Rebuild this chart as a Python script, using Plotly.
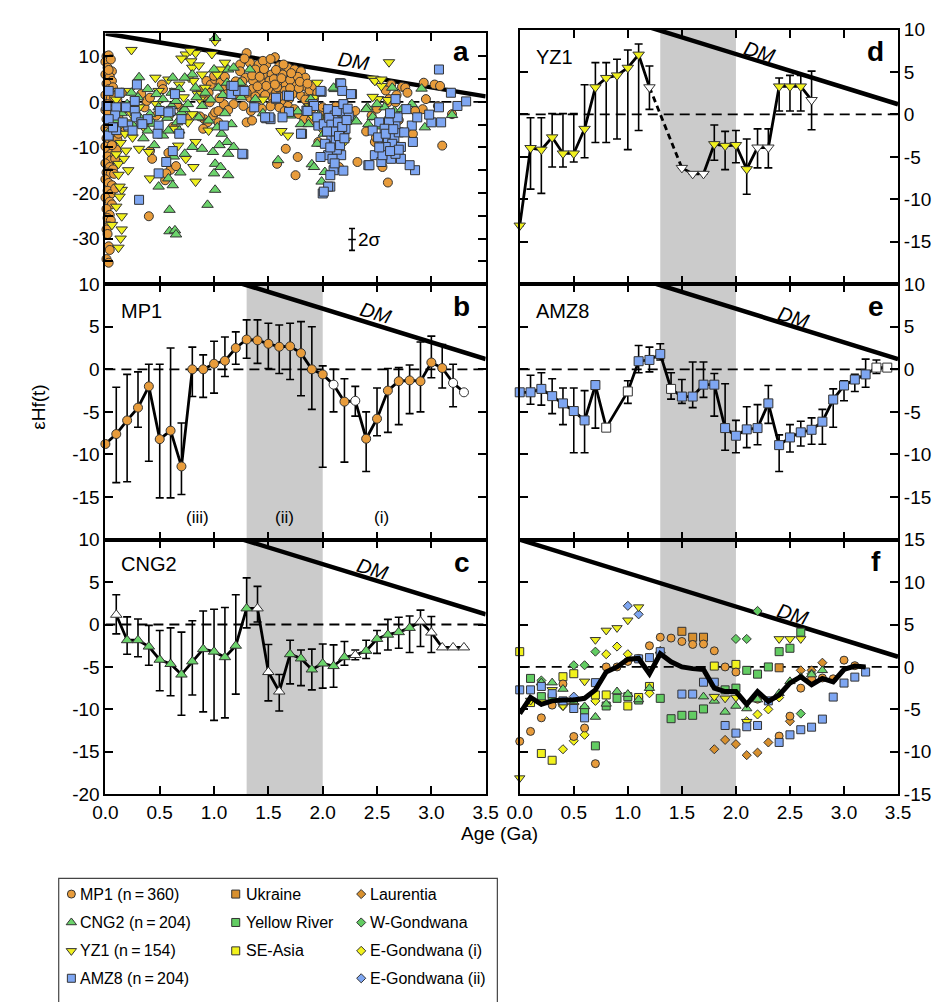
import math
import plotly.graph_objects as go

# ---------------- data ----------------
NAN = float("nan")

# depleted-mantle reference line (age in Ga, epsilon Hf)
dm_age = [0.0, 3.5]
dm_eps = [15.0, 1.2]

# panel a: individual zircon analyses (age Ga, eHf)
a_mp1 = [
    (0.01, 10.0), (0.03, 10.2), (0.00, 8.8), (0.05, 9.3), (0.02, 7.5), (0.06, 6.7), (0.00, 6.0), (0.04, 5.5),
    (0.06, 4.6), (0.01, 4.0), (0.03, 2.8), (0.07, 3.2), (0.00, 1.5), (0.05, 0.8), (0.02, -0.5), (0.09, -0.2),
    (0.00, -1.8), (0.04, -2.5), (0.07, -3.0), (0.01, -3.8), (0.03, -4.5), (0.06, -5.0), (0.10, -4.2), (0.00, -5.8),
    (0.02, -6.5), (0.05, -7.0), (0.08, -6.2), (0.01, -8.0), (0.04, -8.5), (0.07, -8.8), (0.11, -8.2), (0.00, -9.8),
    (0.03, -10.5), (0.05, -11.4), (0.02, -12.0), (0.05, -12.8), (0.09, -11.8), (0.00, -13.5), (0.04, -14.3),
    (0.07, -14.8), (0.01, -15.5), (0.05, -15.7), (0.08, -15.8), (0.00, -17.0), (0.03, -17.8), (0.06, -18.3),
    (0.02, -19.5), (0.05, -20.2), (0.09, -19.0), (0.00, -21.0), (0.04, -21.9), (0.06, -22.5), (0.01, -23.5),
    (0.04, -24.8), (0.02, -25.5), (0.05, -26.0), (0.03, -27.3), (0.01, -28.0), (0.02, -29.0), (0.03, -31.7),
    (0.04, -32.5), (0.01, -34.5), (0.03, -35.3), (0.12, -3.5), (0.14, -6.0), (0.10, -10.5), (0.13, -1.0),
    (0.15, 2.0), (0.11, 0.5), (0.08, 1.0), (0.12, -7.0), (0.09, -12.5), (0.06, -9.5), (0.02, -2.2), (0.03, 7.0),
    (0.33, 1.7), (0.36, -1.2), (0.38, 0.2), (0.41, 0.9), (0.52, 3.8), (0.53, 2.8), (0.41, -10.8), (0.43, -12.5),
    (0.40, -25.1), (0.58, -11.2), (0.60, -14.9), (0.65, -14.1), (0.55, -17.2), (0.56, -15.7), (0.47, -3.0),
    (0.62, -5.5), (0.70, -1.5), (0.75, -3.6), (0.66, -0.5),
    (0.93, 4.6), (0.97, 3.8), (1.01, 4.9), (1.06, 4.2), (1.09, 2.8), (1.12, 1.7), (0.91, 1.3), (0.96, -0.1),
    (0.91, -3.8), (0.94, -4.5), (0.99, -3.0), (1.01, -2.3), (1.04, -2.0), (0.90, -5.9), (1.09, -0.5), (1.00, 5.7),
    (1.18, -0.5), (1.04, -4.5), (1.15, 3.5), (0.88, 2.5), (0.95, 2.0), (1.05, 0.8), (1.10, 5.5), (1.20, 4.5),
    (0.87, -3.2), (1.13, -1.8),
    (1.30, 10.7), (1.56, 9.8), (1.24, 8.2), (1.33, 8.6), (1.41, 8.2), (1.48, 8.2), (1.60, 7.8), (1.68, 7.5),
    (1.74, 7.1), (1.80, 6.7), (1.24, 6.7), (1.38, 7.1), (1.45, 6.0), (1.53, 6.0), (1.63, 6.0), (1.72, 5.7),
    (1.84, 5.3), (1.29, 5.3), (1.36, 4.6), (1.44, 4.2), (1.51, 4.6), (1.59, 4.2), (1.66, 3.8), (1.75, 4.2),
    (1.83, 3.5), (1.27, 3.1), (1.35, 2.8), (1.42, 2.4), (1.50, 2.8), (1.57, 2.0), (1.65, 2.4), (1.72, 1.7),
    (1.80, 1.3), (1.87, 1.7), (1.33, 0.9), (1.41, 0.6), (1.54, 0.9), (1.62, 0.2), (1.69, 0.6), (1.27, -0.9),
    (1.53, -0.5), (1.60, -1.2), (1.68, -0.9), (1.74, -1.6), (1.78, -2.7), (1.83, -3.8), (1.89, -4.1), (1.30, -4.5),
    (1.35, -4.1), (1.66, -10.3), (1.77, -12.1), (1.75, -16.1), (1.58, -13.6), (1.86, -0.1), (1.92, 0.6),
    (1.28, 9.5), (1.45, 9.0), (1.52, 9.4), (1.35, 5.8), (1.42, 5.5), (1.55, 5.0), (1.62, 5.2), (1.70, 4.8),
    (1.77, 5.5), (1.48, 3.5), (1.58, 3.2), (1.60, 1.2), (1.70, 3.0), (1.78, 3.0), (1.30, 2.0), (1.38, 1.2),
    (1.47, 1.5), (1.52, -1.0), (1.65, -2.0), (1.88, 2.5), (1.92, 3.5), (1.95, 2.0), (1.84, 0.5), (1.90, -1.5),
    (2.00, -1.2), (1.98, -3.0), (1.22, 1.5), (1.26, 4.5), (1.40, 3.4), (1.46, 7.2), (1.57, 7.0), (1.64, 8.2),
    (1.71, 6.3), (1.79, 4.4), (1.86, 4.0), (1.56, 3.8), (1.34, -2.0), (1.44, -1.5),
    (2.15, -14.3), (2.32, -13.2), (2.63, 3.8), (2.73, 3.3), (2.76, 3.1), (2.93, 4.2), (3.03, 3.8), (3.08, 3.5),
    (2.95, 0.6), (2.61, 0.6), (2.60, -0.1), (2.92, -1.6), (3.19, -2.7), (3.10, -9.6), (2.83, -7.0), (2.48, -8.8),
    (2.55, -14.3), (2.60, -17.7), (2.67, -0.1), (3.06, -0.9), (2.49, -7.8), (2.05, -3.0), (2.10, -5.0),
    (2.20, -6.5), (2.25, -4.0), (2.30, -2.0), (2.12, -1.0), (2.40, -6.5), (2.45, -3.0), (1.96, -8.8),
    (2.50, -1.5), (2.65, -2.5), (2.70, -4.0), (2.85, -2.0), (2.55, -5.0), (2.68, 1.5), (2.58, 2.5), (2.78, 2.0),
]
a_cng2 = [
    (1.01, 14.0), (0.31, 5.4), (0.39, 2.8), (0.62, 5.3), (0.61, 2.0), (0.68, 2.8), (0.47, 1.7), (0.53, 0.6),
    (0.49, -1.2), (0.53, -2.0), (0.61, -0.9), (0.65, 0.2), (0.70, -2.3), (0.73, -1.6), (0.41, -2.7), (0.39, -6.3),
    (0.53, -7.4), (0.58, -6.3), (0.68, -6.3), (0.73, -11.4), (0.80, -9.9), (0.89, -10.3), (0.58, -16.8),
    (0.49, -18.6), (0.62, -18.3), (0.59, -23.7), (0.94, -22.6), (1.01, -19.3), (1.01, -13.6), (1.00, -15.7),
    (1.06, -14.3), (1.13, -16.1), (1.04, 3.1), (1.00, 7.1), (1.12, 4.2), (1.13, 7.1), (0.83, 3.1), (0.80, 6.0),
    (0.73, 5.3), (0.89, -0.9), (0.95, -4.1), (0.86, -3.4), (1.07, -7.0), (1.03, -5.6), (1.12, -8.8),
    (1.13, -11.4), (0.59, -28.4), (0.64, -28.2), (0.65, -29.1), (0.24, 2.0), (0.30, 1.0), (0.20, -0.5),
    (0.15, -2.5), (0.10, -4.0), (0.25, -5.0), (0.32, -3.5), (0.44, -4.8), (0.57, -3.5), (0.66, -4.5),
    (0.76, -0.5), (0.84, 1.0), (0.92, 2.0), (0.97, 0.5), (1.08, 1.5), (1.10, -2.5), (0.05, -6.0), (0.35, -8.0),
    (0.45, -9.5), (0.63, -12.0), (0.69, -15.5), (0.99, -11.0), (1.05, -9.5),
    (1.18, 7.5), (1.24, 4.2), (1.33, 7.1), (1.38, 0.6), (1.16, -4.9), (1.18, -9.9), (1.77, -2.1), (1.80, -4.9),
    (1.87, -4.9), (1.59, -12.8), (1.90, -13.7), (1.92, -14.3), (1.99, -17.5), (2.02, -15.4), (1.95, -9.2),
    (2.01, -7.0), (2.11, 2.8), (1.89, 0.6), (1.96, -3.0), (2.05, -5.9), (2.14, -3.4), (2.30, -4.1), (2.41, -1.2),
    (1.45, -2.5), (1.70, -3.0), (1.25, 1.0), (2.20, -1.5), (2.10, 3.1), (2.31, -4.3),
    (2.40, -1.6), (2.46, -3.3), (2.42, -4.9), (2.54, -5.4), (2.57, -1.2), (2.64, 3.1), (2.66, -2.0),
    (2.73, -1.6), (2.91, 2.9), (2.94, -5.6), (3.19, -2.9), (2.82, -0.5), (2.50, -0.5), (2.60, -3.5),
]
a_yz1 = [
    (0.24, 11.4), (0.12, 2.4), (0.22, 2.4), (0.16, -2.0), (0.24, -2.7), (0.31, -1.2), (0.12, -5.6), (0.18, -7.0),
    (0.25, -7.8), (0.31, -10.3), (0.19, -10.7), (0.12, -13.6), (0.21, -15.0), (0.15, -19.3), (0.13, -20.8),
    (0.15, -25.1), (0.15, -28.0), (0.12, -32.0), (0.13, -18.6), (0.40, -11.0), (0.41, -16.8), (0.46, 5.3),
    (0.49, 2.4), (0.64, 2.4), (0.68, 3.8), (0.74, 10.4), (0.79, 8.9), (0.80, 7.5), (0.83, 10.7), (0.77, 5.3),
    (0.81, 4.6), (0.89, 6.0), (0.85, 1.7), (0.80, -2.7), (0.83, -8.8), (0.83, -17.5), (0.81, -14.3),
    (0.67, -9.6), (0.74, -12.5), (0.64, -5.9), (0.95, -6.3), (0.47, -0.5), (0.53, -2.7), (0.58, 4.9),
    (1.06, 7.1), (1.10, 8.6), (0.92, 3.1), (1.01, 13.3), (0.10, 0.5), (0.08, -3.5), (0.14, -9.0), (0.10, -11.5),
    (0.17, -12.5), (0.12, -16.0), (0.10, -23.0), (0.14, -30.0), (0.06, -27.0), (0.20, -4.5), (0.28, 0.5),
    (0.35, -5.5), (0.72, 1.0), (0.87, 0.5), (0.76, -4.5), (0.70, 9.5), (0.78, 11.2), (0.86, 8.0), (0.98, 10.5),
    (1.03, 6.0), (0.60, -3.0),
    (1.95, 4.2), (1.92, 0.9), (1.96, -3.4), (1.62, -6.4), (1.68, -7.4), (2.21, -8.5), (1.90, -3.0), (2.61, 8.7),
    (2.46, 5.1), (2.54, 3.5), (2.51, 0.6), (2.60, 0.4), (2.00, -6.3), (2.48, 4.6), (2.54, 4.9), (2.46, 1.1),
    (1.88, -1.0), (2.05, -2.0), (1.45, 0.5),
]
a_amz8 = [
    (0.03, 2.4), (0.13, 2.0), (0.29, 3.8), (0.01, -0.9), (0.10, -1.2), (0.19, -1.2), (0.27, -2.0), (0.09, -3.0),
    (0.28, -3.4), (0.03, -3.8), (0.21, -5.2), (0.33, -4.5), (0.39, -3.8), (0.03, -7.4), (0.10, -6.2),
    (0.25, -6.3), (0.49, -5.2), (0.48, -7.0), (0.50, -2.0), (0.64, 1.7), (0.60, -2.0), (0.68, -7.0),
    (0.62, -10.8), (0.56, -13.2), (0.49, -15.7), (0.31, -21.5), (0.34, -4.9), (0.27, 0.2), (0.16, -4.5),
    (0.07, -5.6), (0.70, -3.8), (0.58, -2.3), (1.09, -5.2), (1.16, 3.5), (1.16, 1.7), (1.22, 2.4), (1.28, 2.4),
    (1.27, -11.5), (1.37, -1.2), (1.48, -3.6), (1.52, -3.8), (1.57, 0.7), (1.67, 1.4), (1.69, -2.2),
    (1.81, -7.0), (1.85, -1.9), (1.91, -0.5), (1.96, -5.2), (1.99, 2.2), (2.00, -20.1), (2.07, -18.6),
    (2.16, 4.1), (2.27, 1.7), (2.18, -2.0), (2.42, -13.9), (2.48, -11.7), (2.52, -4.5),
    (2.17, 4.0), (2.18, 2.4), (2.26, 1.7), (1.98, 2.4), (1.92, -0.9), (2.05, -1.6), (1.86, -2.0), (1.95, -3.4),
    (2.01, -4.9), (2.11, -3.0), (2.18, -2.3), (2.24, -3.0), (2.21, -5.9), (2.16, -6.3), (2.08, -7.8),
    (2.02, -9.2), (2.11, -9.6), (2.17, -11.7), (2.05, -11.7), (1.98, -12.1), (2.10, -15.0), (2.19, -15.1),
    (2.07, -16.1), (2.05, -18.6), (2.01, -19.7), (1.80, -7.0), (1.63, -3.4), (1.51, -3.4), (1.47, -3.4),
    (1.57, 0.9), (1.69, 1.3), (1.26, -11.4), (1.18, 3.5),
    (2.06, -3.5), (2.08, -5.0), (2.10, -6.5), (2.12, -8.5), (2.13, -10.5), (2.14, -4.5), (2.15, -7.5),
    (2.16, -9.5), (2.18, -5.5), (2.20, -8.0), (2.22, -4.0), (2.09, -12.5), (2.11, -13.5), (2.07, -10.0),
    (2.04, -6.5), (2.13, -2.0), (2.19, -0.5), (2.23, -1.5),
    (3.07, 7.1), (3.18, 2.0), (3.24, -0.9), (3.32, 0.1), (3.09, -4.5), (3.00, -4.5), (2.98, -2.8), (3.07, -1.2),
    (2.82, -5.2), (2.83, -8.8), (2.85, -15.0), (2.80, -13.9), (2.72, -12.5), (2.63, -12.5), (2.54, -13.2),
    (2.43, -13.9), (2.55, -9.2), (2.60, -8.5), (2.66, -7.8), (2.70, -6.7), (2.75, -6.7), (2.67, -4.9),
    (2.61, -4.5), (2.57, -5.9), (2.69, -3.4), (2.77, -1.6), (2.87, -3.4), (2.67, 0.6), (2.46, -6.3),
    (2.51, -7.8), (2.64, -9.2), (2.67, -11.4), (2.72, -9.9), (2.58, -9.9), (2.55, -11.7), (2.62, -2.5),
    (2.58, -7.0), (2.65, -6.0), (2.70, -10.5), (2.62, -10.8), (2.52, -10.0),
]
# typical 2-sigma uncertainty shown in panel a
sigma_pos = (2.27, -30.2)
sigma_err = (0.035, 2.4)

# binned curves (age Ga, eHf, upper and lower bounds; open = white symbols)
mp1_age = [round(0.1 * i, 1) for i in range(34)]
mp1_eps = [-8.77, -7.6, -6.0, -4.5, -2.0, -8.2, -7.2, -11.4, 0.0, 0.0, 0.65, 1.0, 2.5, 3.5, 3.4, 3.0, 2.65,
           2.7, 1.9, 0.0, -0.6, -1.8, -3.8, -3.7, -8.15, -5.8, -2.5, -1.4, -1.3, -1.4, 0.8, 0.15, -1.6, -2.7]
mp1_hi = [NAN, -2.1, -0.6, -0.3, 0.6, 0.6, 2.5, -6.3, 2.6, 1.7, 3.3, 3.8, 4.4, 5.8, 5.8, 5.4, 5.2, 5.4, 5.6,
          5.0, 0.4, 0.0, -1.1, -2.0, -5.0, -2.2, 0.1, 0.2, 0.5, 3.2, 3.9, 2.9, 0.6, NAN]
mp1_lo = [NAN, -13.3, -13.2, -6.8, -10.8, -15.1, -15.1, -14.7, -3.2, -3.3, -2.8, -0.85, 0.6, 1.3, 0.7, 0.1,
          -0.5, -1.2, -3.1, -4.7, -11.5, -5.0, -10.9, -5.5, -12.0, -7.8, -7.4, -6.5, -5.2, -5.0, -1.0, -2.2,
          -4.4, NAN]
mp1_open = [2.1, 2.3, 3.2, 3.3]

cng2_age = [round(0.1 * i, 1) for i in range(1, 34)]
cng2_eps = [1.15, -1.85, -1.85, -2.6, -4.15, -4.65, -5.9, -4.35, -2.9, -3.2, -3.85, -2.5, 1.9, 1.9, -5.6,
            -7.9, -3.5, -4.0, -5.3, -4.6, -4.9, -3.85, -3.6, -3.1, -1.7, -1.2, -0.9, -0.4, 0.35, -0.95, -2.7,
            -2.7, -2.7]
cng2_hi = [3.5, 0.9, 0.65, -0.1, -0.7, -0.4, -0.9, 0.45, 1.6, 1.8, 2.0, 3.5, 5.5, 4.5, -2.35, -5.9, -1.85,
           -3.0, -2.9, -2.3, -2.4, -2.0, -3.0, -1.85, -0.7, 0.6, 0.85, 1.0, 1.7, 0.95, NAN, NAN, NAN]
cng2_lo = [-1.1, -3.5, -3.8, -4.8, -7.8, -8.4, -10.7, -8.3, -10.3, -11.3, -11.0, -8.2, -0.4, 0.3, -9.0,
           -10.2, -7.0, -7.2, -7.7, -7.5, -7.4, -4.8, -4.15, -4.0, -3.4, -3.0, -2.8, -3.3, -2.6, -3.3, NAN,
           NAN, NAN]
cng2_open = [0.1, 1.4, 1.5, 1.6, 2.3, 2.9, 3.0, 3.1, 3.2, 3.3]

yz1_age = [0.0, 0.1, 0.2, 0.3, 0.4, 0.5, 0.6, 0.7, 0.8, 0.9, 1.0, 1.1, 1.2, 1.5, 1.6, 1.7, 1.8, 1.9, 2.0,
           2.1, 2.2, 2.3, 2.4, 2.5, 2.6, 2.7]
yz1_eps = [-13.1, -3.96, -4.15, -2.7, -4.6, -4.6, -1.7, 3.2, 4.3, 4.6, 5.5, 7.05, 3.2, -6.3, -7.0, -7.0,
           -3.5, -3.7, -3.6, -6.45, -3.9, -3.9, 3.3, 3.3, 3.3, 1.7]
yz1_hi = [NAN, -0.4, -0.4, 0.1, 0.1, 0.1, 3.5, 6.1, 6.1, 6.5, 7.6, 8.3, 5.7, NAN, NAN, NAN, -1.25, -2.0,
          -1.9, -2.9, -1.7, -1.7, 4.3, 4.6, 4.6, 5.1]
yz1_lo = [NAN, -8.8, -9.3, -6.2, -6.2, -5.6, -5.1, -3.3, -3.3, -2.9, -4.15, -1.9, 0.6, NAN, NAN, NAN, -5.4,
          -6.5, -5.7, -9.4, -6.3, -6.3, 0.4, 0.4, 0.4, -1.8]
yz1_open = [1.2, 1.5, 1.6, 1.7, 2.2, 2.3, 2.7]
yz1_dashed = (1.2, 1.7)   # age interval joined by a dashed line

amz8_age = [0.0, 0.1, 0.2, 0.3, 0.4, 0.5, 0.6, 0.7, 0.8, 1.0, 1.1, 1.2, 1.3, 1.4, 1.5, 1.6, 1.7, 1.8, 1.9,
            2.0, 2.1, 2.2, 2.3, 2.4, 2.5, 2.6, 2.7, 2.8, 2.9, 3.0, 3.1, 3.2, 3.3, 3.4]
amz8_eps = [-2.7, -2.7, -2.3, -3.15, -4.0, -4.9, -6.0, -1.85, -6.85, -2.6, 0.95, 1.1, 1.8, -2.3, -3.2, -3.2,
            -1.8, -1.8, -6.9, -7.8, -7.05, -6.9, -4.0, -8.9, -8.0, -7.4, -7.1, -6.15, -3.55, -1.9, -1.2, -0.6,
            0.2, 0.2]
amz8_hi = [NAN, -0.7, -0.4, -1.1, -2.2, -2.2, -2.5, -1.5, NAN, -1.35, 2.8, 2.6, 3.0, -0.4, -1.2, 0.85, 0.85,
           -0.5, -1.7, -6.0, -4.4, -4.15, -1.9, -7.7, -6.5, -6.1, -5.7, -4.7, -2.3, -1.35, -0.6, 1.2, 1.1, NAN]
amz8_lo = [NAN, -4.1, -4.2, -5.2, -6.5, -9.8, -9.8, -6.9, NAN, -4.0, -0.4, -0.3, 1.1, -3.5, -4.0, -4.5, -3.3,
           -5.5, -9.5, -9.8, -9.2, -8.85, -6.35, -12.0, -9.7, -9.0, -8.8, -8.8, -6.8, -3.7, -2.6, -2.1, -0.5,
           NAN]
amz8_open = [0.8, 1.0, 1.4, 3.3, 3.4]

# panel f: compilation of river/regional records (age Ga, eHf)
f_ukraine = [(1.5, 4.2), (1.6, 3.5), (1.7, 3.5), (2.4, -0.1)]
f_yellow_river = [(0.1, -1.35), (0.2, -3.5), (0.3, -3.6), (0.6, -5.1), (0.7, -9.3), (0.8, -4.6), (0.9, -3.7),
                  (1.0, -3.5), (1.1, -3.9), (1.3, -3.7), (1.4, -6.1), (1.5, -5.7), (1.6, -5.7), (1.7, -4.95),
                  (1.9, -2.7), (2.0, -2.5), (2.1, -0.4), (2.2, -0.85), (2.3, 0.0), (2.4, 1.8), (2.5, 2.2),
                  (2.6, 4.1)]
f_se_asia = [(0.0, 1.8), (0.1, -4.2), (0.2, -10.2), (0.3, -11.0), (0.4, -1.15), (0.5, -0.8), (0.7, -3.3),
             (0.8, -3.3), (1.0, -4.6), (1.1, -3.6), (1.2, -2.3), (1.8, 0.1), (2.0, 0.3)]
f_laurentia = [(1.0, 0.7), (1.8, -9.7), (1.9, -8.6), (2.0, -9.1), (2.1, -10.4), (2.2, -10.1), (2.3, -8.9),
               (2.5, -6.4), (2.6, -0.4), (2.7, -0.4), (2.8, 0.5)]
f_w_gondwana = [(0.2, -1.6), (0.5, 0.2), (0.6, 0.2), (0.7, 1.8), (2.0, 3.3), (2.1, 3.3), (2.2, 6.6),
                (2.6, -5.5), (2.7, -0.8)]
f_e_gondwana_i = [(0.4, -9.7), (0.5, -8.7), (0.6, -8.0), (0.7, -4.0), (0.8, 1.5), (0.9, 2.4), (1.0, 1.5),
                  (1.2, -3.1), (2.1, -6.4), (2.2, -5.6), (2.3, -5.0), (2.4, -3.6), (0.4, -4.6)]
f_e_gondwana_ii = [(0.5, -3.5), (1.0, 7.2), (1.1, 6.2)]
f_mean_age = [round(0.1 * i, 1) for i in range(33)]
f_mean_eps = [-5.5, -3.6, -4.4, -4.0, -3.9, -3.9, -3.7, -2.7, -0.6, 0.0, 0.9, 1.0, -0.8, 1.55, 0.6, 0.0, -0.2,
              -0.3, -2.5, -2.9, -2.9, -4.4, -2.9, -4.05, -3.3, -1.9, -1.15, -2.1, -1.35, -1.75, -0.3, 0.1, 0.0]

shade_age = (1.3, 2.0)
x_ticks = [0.0, 0.5, 1.0, 1.5, 2.0, 2.5, 3.0, 3.5]

# ---------------- styling ----------------
W, H = 949, 1002
FONT = "Liberation Sans, Arial, Helvetica, sans-serif"
EDGE = "#333333"
C = dict(mp1="#E89C3B", cng2="#6CD46C", yz1="#F0F01E", amz8="#7EA6F2",
         ukraine="#D8902E", yriver="#62CC62", seasia="#F2F21C")
TICK_FONT = dict(size=19, family=FONT, color="black")

# subplot geometry in pixels: (x0, x1), (y0_top, y1_bottom)
LEFT, RIGHT = (95, 486), (521, 910)
panels = {
    "a": dict(ax="", xp=LEFT, yp=(24, 280), yr=[-40, 15]),
    "b": dict(ax="2", xp=LEFT, yp=(280, 541), yr=[-20, 10]),
    "c": dict(ax="3", xp=LEFT, yp=(541, 801), yr=[-20, 10]),
    "d": dict(ax="4", xp=RIGHT, yp=(20, 280), yr=[-20, 10]),
    "e": dict(ax="5", xp=RIGHT, yp=(280, 541), yr=[-20, 10]),
    "f": dict(ax="6", xp=RIGHT, yp=(541, 801), yr=[-15, 15]),
}
ytick_sets = {
    "a": ([10, 5, 0, -5, -10, -15, -20, -25, -30, -35], ["10", "", "0", "", "-10", "", "-20", "", "-30", ""]),
    "b": ([10, 5, 0, -5, -10, -15], None),
    "c": ([10, 5, 0, -5, -10, -15, -20], None),
    "d": ([10, 5, 0, -5, -10, -15], None),
    "e": ([10, 5, 0, -5, -10, -15], None),
    "f": ([15, 10, 5, 0, -5, -10, -15], None),
}

fig = go.Figure()
layout = dict(width=W, height=H, margin=dict(l=0, r=0, t=0, b=0), showlegend=False,
              paper_bgcolor="white", plot_bgcolor="rgba(0,0,0,0)", font=dict(family=FONT, color="black"))
shapes, annotations = [], []


def paper_text(px, py, text, size, xanchor="center", **kw):
    """Text placed by its pixel position (centre, or left edge) on the page."""
    annotations.append(dict(x=px / W, y=1 - py / H, xref="paper", yref="paper", text=text, showarrow=False,
                            xanchor=xanchor, yanchor="middle", font=dict(size=size, family=FONT), **kw))


for key, p in panels.items():
    ax = p["ax"]
    xname, yname = "xaxis" + ax, "yaxis" + ax
    xref, yref = "x" + ax, "y" + ax
    bottom = key in ("c", "f")
    right = p["xp"] is RIGHT
    layout[xname] = dict(
        domain=[p["xp"][0] / W, p["xp"][1] / W], range=[0, 3.5], anchor=yref,
        tickvals=x_ticks, ticktext=[f"{v:.1f}" for v in x_ticks], showticklabels=bottom,
        ticks="inside", ticklen=8, tickwidth=1.6, tickcolor="black",
        showline=True, linewidth=2, linecolor="black", mirror="ticks",
        showgrid=False, zeroline=False, tickfont=TICK_FONT)
    tv, tt = ytick_sets[key]
    if tt is None:
        tt = [str(v) for v in tv]
    layout[yname] = dict(
        domain=[1 - p["yp"][1] / H, 1 - p["yp"][0] / H], range=p["yr"], anchor=xref,
        side="right" if right else "left", tickvals=tv, ticktext=tt,
        ticks="inside", ticklen=8, tickwidth=1.6, tickcolor="black",
        showline=True, linewidth=2, linecolor="black", mirror="ticks",
        showgrid=False, zeroline=False, tickfont=TICK_FONT)
    if key != "a":
        shapes.append(dict(type="rect", xref=xref, yref=yref + " domain", x0=shade_age[0], x1=shade_age[1],
                           y0=0, y1=1, fillcolor="#cbcbcb", line=dict(width=0), layer="below"))
    shapes.append(dict(type="line", xref=xref, yref=yref, x0=0, x1=3.5, y0=0, y1=0, layer="below",
                       line=dict(color="black", width=1.8, dash="10px,6px")))
    fig.add_trace(go.Scatter(x=dm_age, y=dm_eps, mode="lines", xaxis=xref, yaxis=yref,
                             line=dict(color="black", width=4.5), hoverinfo="skip"))

# DM labels rotated to follow the line
dm_label_pos = {"a": (2.28, 9.0), "b": (2.49, 6.6), "c": (2.46, 6.6), "d": (2.22, 7.4), "e": (2.53, 6.2),
                "f": (2.52, 6.2)}
for key, (lx, ly) in dm_label_pos.items():
    p = panels[key]
    px_per_ga = (p["xp"][1] - p["xp"][0]) / 3.5
    px_per_eps = (p["yp"][1] - p["yp"][0]) / (p["yr"][1] - p["yr"][0])
    slope = (dm_eps[0] - dm_eps[1]) / (dm_age[1] - dm_age[0])
    ang = math.degrees(math.atan(slope * px_per_eps / px_per_ga))
    annotations.append(dict(x=lx, y=ly, xref="x" + p["ax"], yref="y" + p["ax"], text="<i>DM</i>",
                            showarrow=False, textangle=ang, xanchor="center", yanchor="middle",
                            font=dict(size=20, family=FONT)))


def marker(symbol, color, size):
    return dict(symbol=symbol, color=color, size=size, line=dict(color=EDGE, width=1))


# panel a scatter
for pts, sym, col, size in [(a_mp1, "circle", C["mp1"], 9), (a_yz1, "triangle-down", C["yz1"], 10),
                            (a_cng2, "triangle-up", C["cng2"], 10), (a_amz8, "square", C["amz8"], 9)]:
    fig.add_trace(go.Scatter(x=[q[0] for q in pts], y=[q[1] for q in pts], mode="markers",
                             marker=marker(sym, col, size), xaxis="x", yaxis="y", cliponaxis=False))
fig.add_trace(go.Scatter(x=[sigma_pos[0]], y=[sigma_pos[1]], mode="markers", xaxis="x", yaxis="y",
                         marker=dict(size=1, color="rgba(0,0,0,0)"),
                         error_x=dict(type="data", array=[sigma_err[0]], color="black", thickness=1.6, width=0),
                         error_y=dict(type="data", array=[sigma_err[1]], color="black", thickness=1.6, width=3)))
annotations.append(dict(x=sigma_pos[0] + 0.04, y=sigma_pos[1], xref="x", yref="y", text="2σ", showarrow=False,
                        xanchor="left", yanchor="middle", font=dict(size=19, family=FONT)))


def add_curve(ax, age, eps, hi, lo, opened, sym, col, size, dashed=None):
    xref, yref = "x" + ax, "y" + ax
    # connecting line
    if dashed is None:
        segs = [(age, eps, "solid")]
    else:
        i0, i1 = age.index(dashed[0]), age.index(dashed[1])
        segs = [(age[:i0 + 1], eps[:i0 + 1], "solid"), (age[i0:i1 + 1], eps[i0:i1 + 1], "6px,4px"),
                (age[i1:], eps[i1:], "solid")]
    for sx, sy, dash in segs:
        fig.add_trace(go.Scatter(x=sx, y=sy, mode="lines", xaxis=xref, yaxis=yref,
                                 line=dict(color="black", width=2.8, dash=dash)))
    up = [h - e if h == h else NAN for h, e in zip(hi, eps)]
    dn = [e - l if l == l else NAN for l, e in zip(lo, eps)]
    fig.add_trace(go.Scatter(x=age, y=eps, mode="markers", xaxis=xref, yaxis=yref, cliponaxis=False,
                             marker=dict(size=1, color="rgba(0,0,0,0)"),
                             error_y=dict(type="data", symmetric=False, array=up, arrayminus=dn,
                                          color="black", thickness=1.6, width=4)))
    filled = [e if a not in opened else None for a, e in zip(age, eps)]
    hollow = [e if a in opened else None for a, e in zip(age, eps)]
    fig.add_trace(go.Scatter(x=age, y=filled, mode="markers", xaxis=xref, yaxis=yref, cliponaxis=False,
                             marker=marker(sym, col, size)))
    fig.add_trace(go.Scatter(x=age, y=hollow, mode="markers", xaxis=xref, yaxis=yref, cliponaxis=False,
                             marker=marker(sym, "white", size)))


add_curve("2", mp1_age, mp1_eps, mp1_hi, mp1_lo, mp1_open, "circle", C["mp1"], 9)
add_curve("3", cng2_age, cng2_eps, cng2_hi, cng2_lo, cng2_open, "triangle-up", C["cng2"], 10)
add_curve("4", yz1_age, yz1_eps, yz1_hi, yz1_lo, yz1_open, "triangle-down", C["yz1"], 10, dashed=yz1_dashed)
add_curve("5", amz8_age, amz8_eps, amz8_hi, amz8_lo, amz8_open, "square", C["amz8"], 9)

# panel f compilation
for pts, sym, col, size in [(f_laurentia, "diamond", C["ukraine"], 7), (f_w_gondwana, "diamond", C["yriver"], 7),
                            (f_e_gondwana_i, "diamond", C["seasia"], 7), (f_e_gondwana_ii, "diamond", C["amz8"], 7),
                            (f_ukraine, "square", C["ukraine"], 8), (f_yellow_river, "square", C["yriver"], 8),
                            (f_se_asia, "square", C["seasia"], 8)]:
    fig.add_trace(go.Scatter(x=[q[0] for q in pts], y=[q[1] for q in pts], mode="markers", xaxis="x6",
                             yaxis="y6", cliponaxis=False, marker=marker(sym, col, size)))
for age, eps, opened, sym, col, size in [
        (mp1_age, mp1_eps, mp1_open, "circle", C["mp1"], 8),
        (cng2_age, cng2_eps, cng2_open, "triangle-up", C["cng2"], 9),
        (yz1_age, yz1_eps, yz1_open, "triangle-down", C["yz1"], 9),
        (amz8_age, amz8_eps, amz8_open, "square", C["amz8"], 8)]:
    fig.add_trace(go.Scatter(x=[a for a in age if a not in opened],
                             y=[e for a, e in zip(age, eps) if a not in opened],
                             mode="markers", xaxis="x6", yaxis="y6", cliponaxis=False,
                             marker=marker(sym, col, size)))
fig.add_trace(go.Scatter(x=f_mean_age, y=f_mean_eps, mode="lines", xaxis="x6", yaxis="y6",
                         line=dict(color="black", width=5)))

# panel letters and sample names
for key, (px, py) in {"a": (461, 42), "b": (461, 303), "c": (462, 564), "d": (887, 42), "e": (887, 303),
                      "f": (887, 563)}.items():
    paper_text(px, py, f"<b>{key}</b>", 28)
for name, (px, py) in {"MP1": (109, 307), "CNG2": (109, 566), "YZ1": (536, 48), "AMZ8": (536, 307)}.items():
    paper_text(px, py, name, 20, xanchor="left")
for txt, age in [("(iii)", 0.85), ("(ii)", 1.65), ("(i)", 2.54)]:
    annotations.append(dict(x=age, y=-17.4, xref="x2", yref="y2", text=txt, showarrow=False,
                            xanchor="center", yanchor="middle", font=dict(size=17, family=FONT)))

# axis titles
paper_text(500, 841, "Age (Ga)", 19)
paper_text(26, 406, "εHf(t)", 19, textangle=-90)

# key box drawn on a pixel-scaled overlay axis
layout["xaxis7"] = dict(domain=[0, 1], range=[0, W], visible=False, anchor="y7")
layout["yaxis7"] = dict(domain=[0, 1], range=[H, 0], visible=False, anchor="x7")
shapes.append(dict(type="rect", xref="paper", yref="paper", x0=47 / W, x1=498 / W, y0=1 - 887 / H, y1=-0.05,
                   line=dict(color="#444444", width=1.2), fillcolor="white", layer="below"))
key_cols = [(60, 67), (229, 237), (358, 365)]
key_rows = [903, 932, 961, 989]
key_items = [
    ("MP1 (n\u2009=\u2009360)", "circle", C["mp1"], 0, 0, 8),
    ("CNG2 (n\u2009=\u2009204)", "triangle-up", C["cng2"], 0, 1, 9),
    ("YZ1 (n\u2009=\u2009154)", "triangle-down", C["yz1"], 0, 2, 9),
    ("AMZ8 (n\u2009=\u2009204)", "square", C["amz8"], 0, 3, 8),
    ("Ukraine", "square", C["ukraine"], 1, 0, 8),
    ("Yellow River", "square", C["yriver"], 1, 1, 8),
    ("SE-Asia", "square", C["seasia"], 1, 2, 8),
    ("Laurentia", "diamond", C["ukraine"], 2, 0, 7),
    ("W-Gondwana", "diamond", C["yriver"], 2, 1, 7),
    ("E-Gondwana (i)", "diamond", C["seasia"], 2, 2, 7),
    ("E-Gondwana (ii)", "diamond", C["amz8"], 2, 3, 7),
]
for label, sym, col, ci, ri, size in key_items:
    mx, tx = key_cols[ci]
    fig.add_trace(go.Scatter(x=[mx], y=[key_rows[ri]], mode="markers", xaxis="x7", yaxis="y7",
                             cliponaxis=False, marker=marker(sym, col, size)))
    annotations.append(dict(x=tx, y=key_rows[ri], xref="x7", yref="y7", text=label, xanchor="left",
                            yanchor="middle", showarrow=False, font=dict(size=16, family=FONT)))

layout["shapes"] = shapes
layout["annotations"] = annotations
fig.update_layout(**layout)
fig.update_traces(hoverinfo="skip", selector=dict(type="scatter"))
fig.write_html("out.html")
